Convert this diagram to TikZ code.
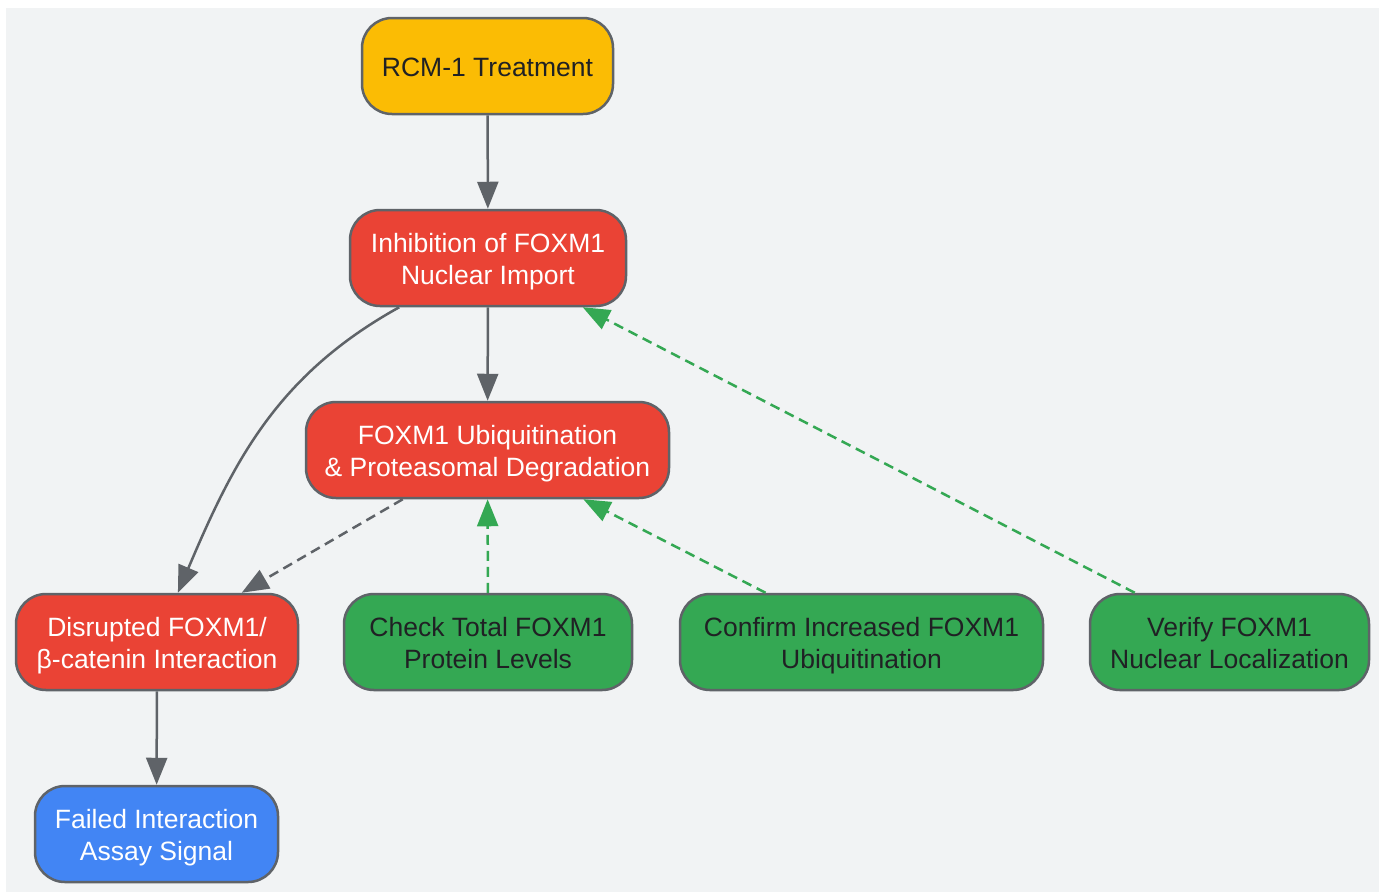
\documentclass[tikz,border=0pt]{standalone}
\usepackage{fontspec}
\setmainfont{Liberation Sans}
\usetikzlibrary{arrows.meta}
\definecolor{fxbg}{HTML}{F1F3F4}
\definecolor{fxgray}{HTML}{5F6368}
\definecolor{fxyellow}{HTML}{FBBC04}
\definecolor{fxred}{HTML}{EA4335}
\definecolor{fxgreen}{HTML}{34A853}
\definecolor{fxblue}{HTML}{4285F4}
\definecolor{fxdark}{HTML}{202124}
\newcommand{\fxs}{\rule[-6pt]{0pt}{32pt}}
\begin{document}
\begin{tikzpicture}[x=1pt,y=-1pt]
        \tikzset{
        fx node/.style={rectangle,rounded corners=30pt,draw=fxgray,line width=2.5pt,minimum height=96pt,inner sep=0,align=center,font=\fontsize{26.5}{32}\selectfont},
        fx edge/.style={draw=fxgray,line width=2.5pt,-{Triangle[length=27pt,width=21pt]}},
        fx check/.style={fx edge,draw=fxgreen,dash pattern=on 10pt off 6pt}
        }
        \useasboundingbox (0,0) rectangle (1381,892);
        \fill[fxbg] (6,8) rectangle (1379,892);

        \node[fx node,fill=fxyellow,text=fxdark,minimum width=251pt] (1) at (487.5, 66) {\fxs RCM-1 Treatment};
        \node[fx node,fill=fxred,text=white,minimum width=276pt] (2) at (488, 258) {\fxs Inhibition of FOXM1\\\fxs Nuclear Import};
        \node[fx node,fill=fxred,text=white,minimum width=363pt] (3) at (487.5, 450) {\fxs FOXM1 Ubiquitination\\\fxs \& Proteasomal Degradation};
        \node[fx node,fill=fxred,text=white,minimum width=282pt] (4) at (157, 642) {\fxs Disrupted FOXM1/\\\fxs β-catenin Interaction};
        \node[fx node,fill=fxgreen,text=fxdark,minimum width=288pt] (5) at (488, 642) {\fxs Check Total FOXM1\\\fxs Protein Levels};
        \node[fx node,fill=fxgreen,text=fxdark,minimum width=363pt] (6) at (861.5, 642) {\fxs Confirm Increased FOXM1\\\fxs Ubiquitination};
        \node[fx node,fill=fxgreen,text=fxdark,minimum width=279pt] (7) at (1229.5, 642) {\fxs Verify FOXM1\\\fxs Nuclear Localization};
        \node[fx node,fill=fxblue,text=white,minimum width=243pt] (8) at (156.5, 834) {\fxs Failed Interaction\\\fxs Assay Signal};

        \path
        (1) edge[fx edge] (2)
        (2) edge[fx edge] (3)
        (2) edge[fx edge,out=209,in=67] (4)
        (3) edge[fx edge,dash pattern=on 10pt off 6pt] (4)
        (4) edge[fx edge] (8)
        (5) edge[fx check] (3)
        (6) edge[fx check] (3)
        (7) edge[fx check] (2)
        ;
\end{tikzpicture}
\end{document}
